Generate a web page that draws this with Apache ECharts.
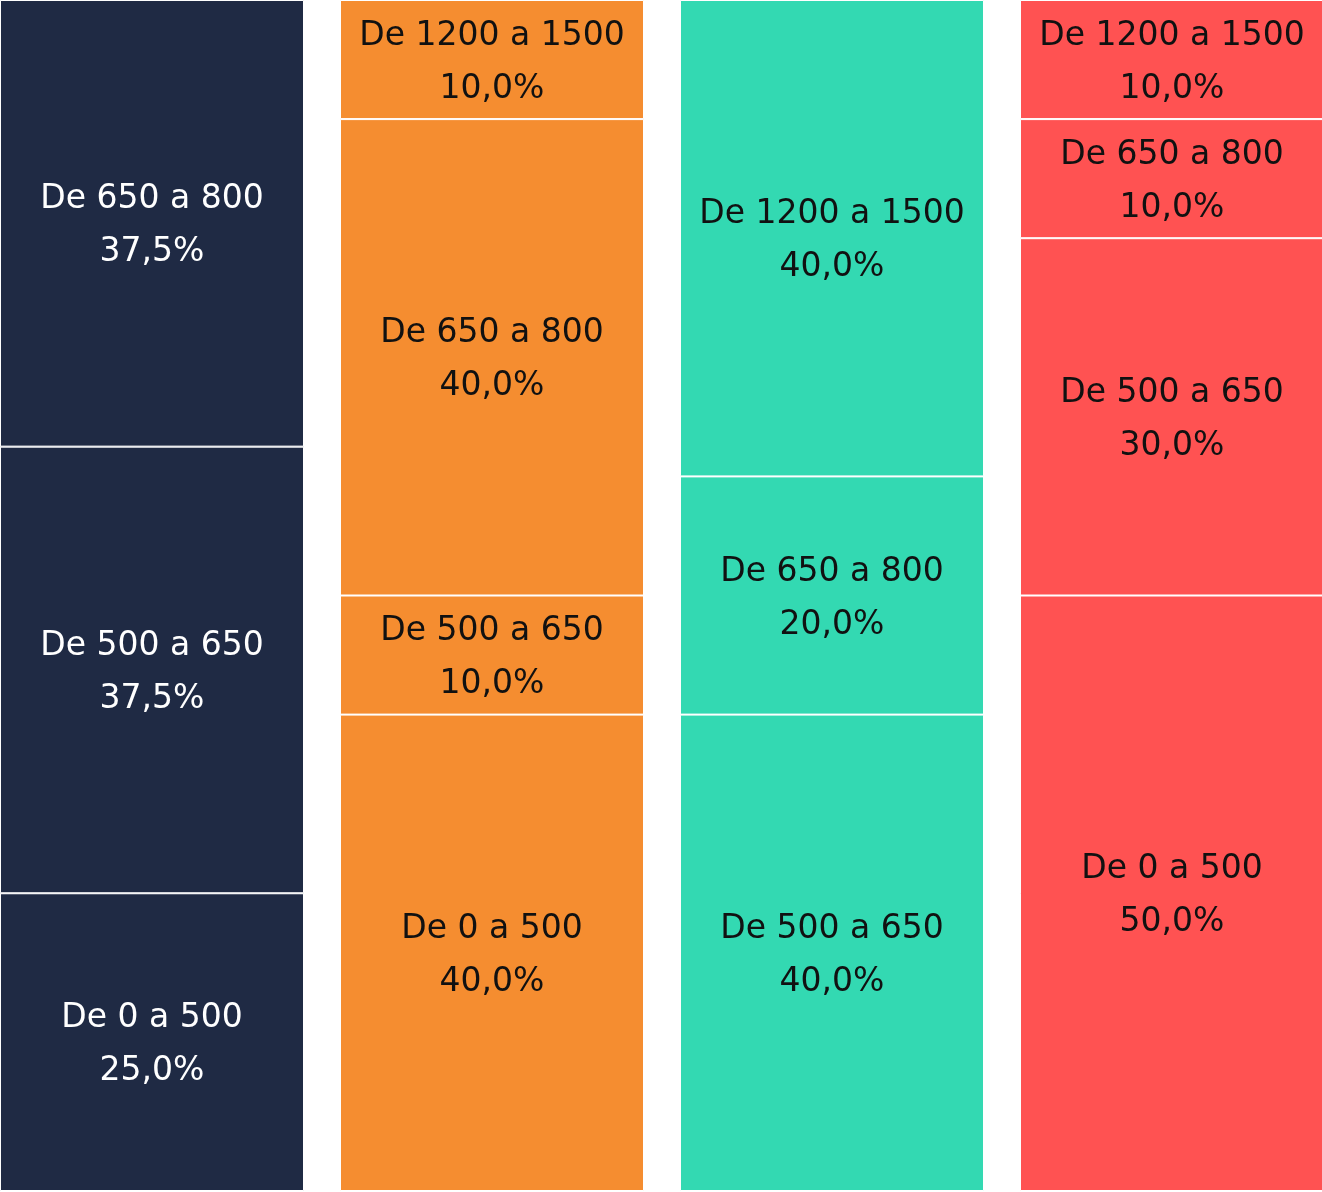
<!DOCTYPE html>
<html><head><meta charset="utf-8">
<script src="https://cdn.jsdelivr.net/npm/echarts@6/dist/echarts.min.js"></script>
<style>html,body{margin:0;padding:0;background:#fff;overflow:hidden;width:1322px;height:1192px}#c{width:1360px;height:1192px;margin-left:-18px}</style>
</head><body><div id="c"></div>
<script>
const categories = ['Grupo 1', 'Grupo 2', 'Grupo 3', 'Grupo 4'];
const rangeNames = ['De 0 a 500', 'De 500 a 650', 'De 650 a 800', 'De 1200 a 1500'];
const v0to500 = [25, 40, null, 50];
const v500to650 = [37.5, 10, 40, 30];
const v650to800 = [37.5, 40, 20, 10];
const v1200to1500 = [null, 10, 40, 10];
const columnColors = ['#1F2A44', '#F58D30', '#33D9B2', '#FF5252'];
const labelColors = ['#ffffff', '#111111', '#111111', '#111111'];

const seriesValues = [v0to500, v500to650, v650to800, v1200to1500];
const chart = echarts.init(document.getElementById('c'), null, {renderer: 'canvas'});
const series = rangeNames.map((name, si) => ({
  name, type: 'bar', stack: 'total', barWidth: 304,
  data: seriesValues[si].map((v, ci) => ({
    value: v,
    itemStyle: {color: columnColors[ci]},
    label: {color: labelColors[ci]}
  })),
  itemStyle: {borderColor: '#ffffff', borderWidth: 1},
  label: {
    show: true, position: 'inside', offset: [0, 3],
    fontFamily: 'DejaVu Sans', fontSize: 33, lineHeight: 53,
    formatter: p => p.value == null ? '' : p.seriesName + '\n' + p.value.toFixed(1).replace('.', ',') + '%'
  },
  emphasis: {disabled: true}
}));
chart.setOption({
  animation: false,
  grid: {left: 0, right: 0, top: 0, bottom: 1, containLabel: false},
  xAxis: {type: 'category', data: categories, show: false},
  yAxis: {type: 'value', min: 0, max: 100, show: false},
  series
});
</script></body></html>
